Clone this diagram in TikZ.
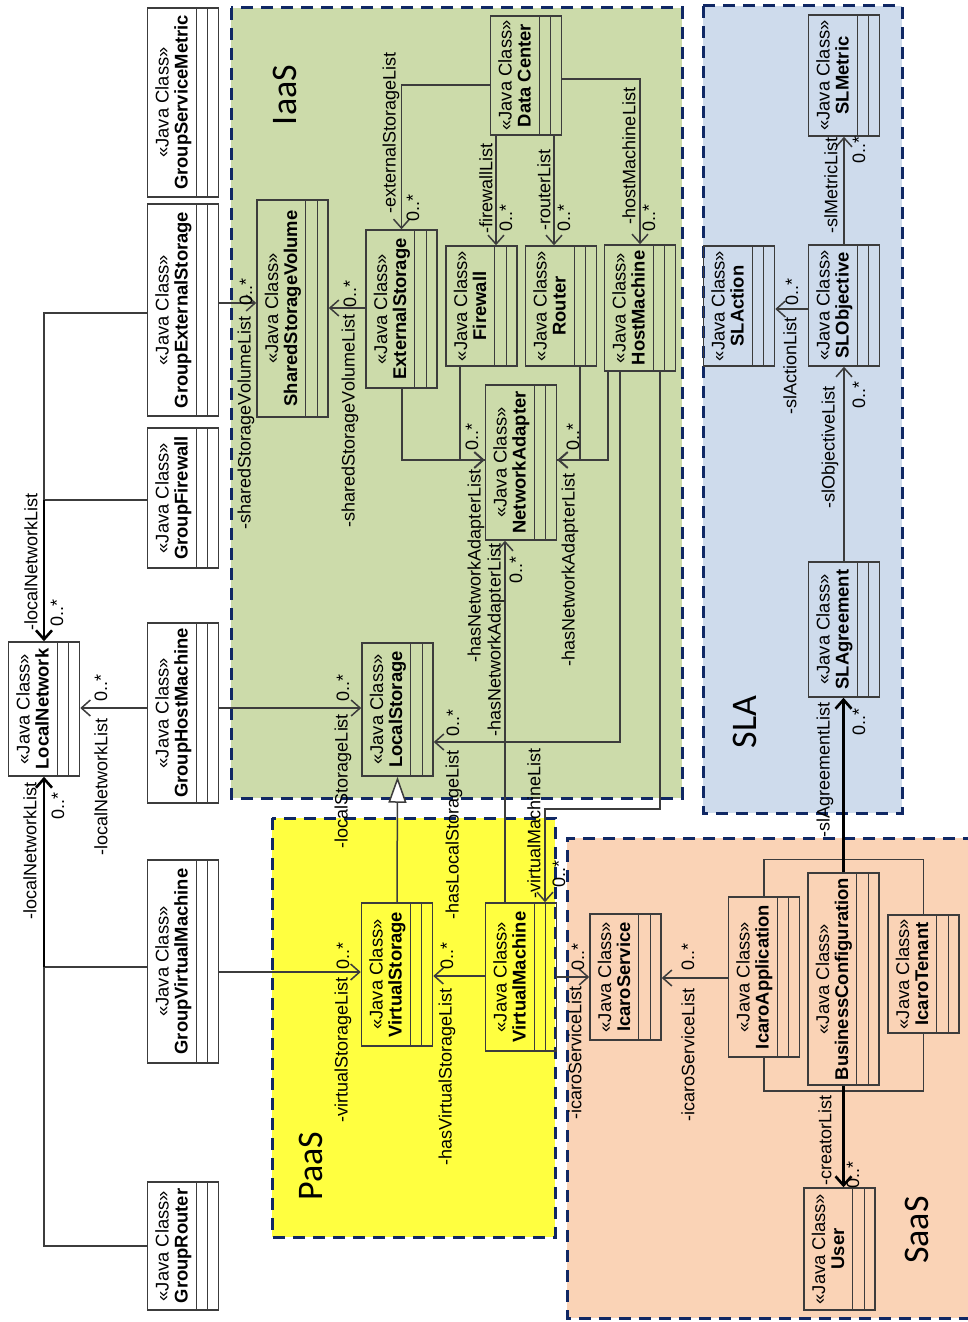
\documentclass[tikz,border=0pt]{standalone}
\usepackage{fontspec}
\setmainfont{Liberation Sans}
\newfontfamily\zonefont{Carlito}
\usetikzlibrary{arrows.meta}

\definecolor{iaasbg}{RGB}{204,219,170}
\definecolor{paasbg}{RGB}{255,255,64}
\definecolor{saasbg}{RGB}{250,211,182}
\definecolor{slabg}{RGB}{206,219,236}
\definecolor{zoneblue}{RGB}{16,40,100}
\definecolor{umlgray}{RGB}{60,60,60}

\newcommand{\jc}[1]{«Java Class»\\\textbf{#1}\rule[-11.5pt]{0pt}{11.5pt}}

\begin{document}
\begin{tikzpicture}[x=0.5pt,y=-0.5pt,
    >={Straight Barb[length=4.5pt,width=8pt]},
    cls/.style={draw=umlgray, line width=0.75pt, rotate=90, minimum height=35.5pt,
      inner xsep=1pt, inner ysep=2pt, align=center, font=\fontsize{9.2}{9.5}\selectfont},
    zone/.style={draw=zoneblue, line width=1.5pt, dash pattern=on 6pt off 4pt},
    zonename/.style={rotate=90, font=\zonefont\fontsize{18}{18}\selectfont},
    role/.style={rotate=90, inner sep=0pt, font=\fontsize{9}{9}\selectfont},
    assoc/.style={draw=umlgray, line width=0.75pt},
    heavy/.style={draw=black, line width=1.3pt}]

    \useasboundingbox (0,0) rectangle (968,1322);

    \draw[zone, fill=iaasbg] (231,8) rectangle (682,798);
    \draw[zone, fill=paasbg] (272,818) rectangle (555,1237);
    \draw[zone, fill=slabg] (703,6) rectangle (902,813);
    \fill[saasbg] (567,838) rectangle (975,1318);
    \draw[zone] (975,838) -- (567,838) -- (567,1318) -- (975,1318);

    \node[zonename] (tIaaS) at (285,95) {IaaS};
    \node[zonename] (tPaaS) at (311,1166) {PaaS};
    \node[zonename] (tSLA) at (745,722) {SLA};
    \node[zonename] (tSaaS) at (917,1230) {SaaS};

    \node[cls, minimum width=94.5pt] (gsm) at (183,102.5) {\jc{GroupServiceMetric}};
    \node[cls, minimum width=106pt] (ges) at (183,310) {\jc{GroupExternalStorage}};
    \node[cls, minimum width=70pt] (gfw) at (183,498) {\jc{GroupFirewall}};
    \node[cls, minimum width=90pt] (ghm) at (183,713) {\jc{GroupHostMachine}};
    \node[cls, minimum width=67pt] (ln) at (44,709) {\jc{LocalNetwork}};
    \node[cls, minimum width=101.5pt] (gvm) at (183,961.5) {\jc{GroupVirtualMachine}};
    \node[cls, minimum width=64pt] (grt) at (183,1246) {\jc{GroupRouter}};
    \node[cls, minimum width=108.5pt] (ssv) at (292.5,308.5) {\jc{SharedStorageVolume}};
    \node[cls, minimum width=79pt] (es) at (401.5,309) {\jc{ExternalStorage}};
    \node[cls, minimum width=60pt] (fw) at (481.5,306) {\jc{Firewall}};
    \node[cls, minimum width=60pt] (rt) at (561,306) {\jc{Router}};
    \node[cls, minimum width=63pt] (hm) at (640,308) {\jc{HostMachine}};
    \node[cls, minimum width=59.5pt] (dc) at (526,75.5) {\jc{Data Center}};
    \node[cls, minimum width=77.5pt] (na) at (521,462.5) {\jc{NetworkAdapter}};
    \node[cls, minimum width=66.5pt] (ls) at (397.5,709.5) {\jc{LocalStorage}};
    \node[cls, minimum width=71.5pt] (vs) at (397,974.5) {\jc{VirtualStorage}};
    \node[cls, minimum width=74pt] (vm) at (521,977) {\jc{VirtualMachine}};
    \node[cls, minimum width=63pt] (isv) at (625.5,977) {\jc{IcaroService}};
    \node[cls, minimum width=80pt] (iapp) at (764,977) {\jc{IcaroApplication}};
    \node[cls, minimum width=106pt] (bc) at (843.5,979) {\jc{BusinessConfiguration}};
    \node[cls, minimum width=59pt] (iten) at (923.5,974) {\jc{IcaroTenant}};
    \node[cls, minimum width=61pt] (usr) at (839.5,1249) {\jc{User}};
    \node[cls, minimum width=60pt] (slact) at (739,306) {\jc{SLAction}};
    \node[cls, minimum width=60.5pt] (slo) at (844,305.5) {\jc{SLObjective}};
    \node[cls, minimum width=60.5pt] (slm) at (844,75.5) {\jc{SLMetric}};
    \node[cls, minimum width=67.5pt] (slag) at (844,629.5) {\jc{SLAgreement}};

    \foreach \c in {gsm,ges,gfw,ghm,ln,gvm,grt,ssv,es,fw,rt,hm,dc,na,ls,vs,vm,
                    isv,iapp,bc,iten,usr,slact,slo,slm,slag}
      \draw[assoc, line width=0.6pt]
        ([xshift=-5.75pt]\c.south west) -- ([xshift=-5.75pt]\c.south east)
        ([xshift=-11.5pt]\c.south west) -- ([xshift=-11.5pt]\c.south east);

    \draw[assoc] (ges.north |- 0,313) -| (ln.east |- 0,500);
    \draw[assoc] (gfw.north |- 0,500) -- (ln.east |- 0,500);
    \draw[assoc, heavy, ->] (ln.east |- 0,500) -- (ln.east);
    \draw[assoc] (grt.north |- 0,1246) -| (ln.west |- 0,967);
    \draw[assoc] (gvm.north |- 0,967) -- (ln.west |- 0,967);
    \draw[assoc, heavy, ->] (ln.west |- 0,967) -- (ln.west);
    \draw[assoc, ->] (ghm.north |- 0,708) -- (ln.south |- 0,708);

    \draw[assoc, ->] (ges.south |- 0,303) -- (ssv.north |- 0,303);
    \draw[assoc, ->] (ghm.south |- 0,708) -- (ls.north |- 0,708);
    \draw[assoc, ->] (es.north |- 0,308) -- (ssv.south |- 0,308);
    \draw[assoc, ->] (dc.north |- 0,85) -| (es.east);
    \draw[assoc, ->] (dc.west -| 496,0) -- (fw.east -| 496,0);
    \draw[assoc, ->] (dc.west -| 554,0) -- (rt.east -| 554,0);
    \draw[assoc, ->] (dc.south |- 0,79) -| (hm.east);

    \coordinate (naIn1) at (na.north |- 0,460);
    \coordinate (naIn2) at (na.south |- 0,460);
    \draw[assoc] (fw.west -| 460,0) |- (naIn1);
    \draw[assoc, line width=1pt, ->] (es.west) |- (naIn1);
    \draw[assoc] (rt.west -| 580,0) |- (naIn2);
    \draw[assoc, line width=1pt, ->] (hm.west -| 608,0) |- (naIn2);
    \draw[assoc, ->] (hm.west -| 620,0) |- (ls.south |- 0,742);
    \draw[assoc, ->] (hm.west -| 660,0) -- ++(0,437) -| (vm.east -| 545,0);
    \draw[assoc, ->] (vm.east -| 505,0) -- (na.west -| 505,0);
    \draw[assoc, -{Triangle[length=13pt,width=9pt,fill=white]}] (vs.east) -- (ls.west);

    \draw[assoc, ->] (gvm.south |- 0,972) -- (vs.north |- 0,972);
    \draw[assoc, ->] (vm.north |- 0,976) -- (vs.south |- 0,976);
    \draw[assoc, ->] (vm.south |- 0,977) -- (isv.north |- 0,977);

    \draw[assoc, ->] (iapp.north |- 0,978) -- (isv.south |- 0,978);
    \draw[assoc] (iapp.east) -- ++(0,-37) -| (iten.east);
    \draw[assoc] (iapp.west) -- ++(0,33) -| (iten.west);
    \draw[assoc, heavy, ->] (bc.east) -- (bc.east |- slag.west);
    \draw[assoc, heavy, ->] (bc.west) -- (bc.west |- usr.east);

    \draw[assoc, ->] (slag.east) -- (slo.west);
    \draw[assoc, ->] (slo.east) -- (slm.west);
    \draw[assoc, ->] (slo.north |- 0,309) -- (slact.south |- 0,309);

    \node[role] (rLnTop) at (31,562) {-localNetworkList};
    \node[role] (mLnTop) at (57,613) {0..*};
    \node[role] (rLnBot) at (30,851) {-localNetworkList};
    \node[role] (mLnBot) at (58,806) {0..*};
    \node[role] (rLnGhm) at (101,787) {-localNetworkList};
    \node[role] (mLnGhm) at (101,688) {0..*};
    \node[role] (rSsv1) at (246,423) {-sharedStorageVolumeList};
    \node[role] (mSsv1) at (246,292) {0..*};
    \node[role] (rSsv2) at (350,421) {-sharedStorageVolumeList};
    \node[role] (mSsv2) at (350,294) {0..*};
    \node[role] (rEs) at (391,133) {-externalStorageList};
    \node[role] (mEs) at (413,208) {0..*};
    \node[role] (rFw) at (486,188) {-firewallList};
    \node[role] (mFw) at (506,218) {0..*};
    \node[role] (rRt) at (544,190) {-routerList};
    \node[role] (mRt) at (564,218) {0..*};
    \node[role] (rHm) at (629,156) {-hostMachineList};
    \node[role] (mHm) at (649,218) {0..*};
    \node[role] (rNa1) at (476,566) {-hasNetworkAdapterList};
    \node[role] (mNa1) at (472,437) {0..*};
    \node[role] (rNa2) at (570,570) {-hasNetworkAdapterList};
    \node[role] (mNa2) at (573,437) {0..*};
    \node[role] (rNa3) at (496,640) {-hasNetworkAdapterList};
    \node[role] (mNa3) at (516,570) {0..*};
    \node[role] (rLs1) at (343,781) {-localStorageList};
    \node[role] (mLs1) at (343,688) {0..*};
    \node[role] (rLs2) at (454,835) {-hasLocalStorageList};
    \node[role] (mLs2) at (453,723) {0..*};
    \node[role] (rVm) at (534,823) {-virtualMachineList};
    \node[role] (mVm) at (559,874) {0..*};
    \node[role] (rVs1) at (343,1050) {-virtualStorageList};
    \node[role] (mVs1) at (343,956) {0..*};
    \node[role] (rVs2) at (447,1077) {-hasVirtualStorageList};
    \node[role] (mVs2) at (447,956) {0..*};
    \node[role] (rIs1) at (575,1053) {-icaroServiceList};
    \node[role] (mIs1) at (578,957) {0..*};
    \node[role] (rIs2) at (688,1055) {-icaroServiceList};
    \node[role] (mIs2) at (688,957) {0..*};
    \node[role] (rSag) at (825,770) {-slAgreementList};
    \node[role] (mSag) at (859,722) {0..*};
    \node[role] (rCr) at (825,1140) {-creatorList};
    \node[role] (mCr) at (853,1175) {0..*};
    \node[role] (rSo) at (830,447) {-slObjectiveList};
    \node[role] (mSo) at (859,395) {0..*};
    \node[role] (rSm) at (831,185) {-slMetricList};
    \node[role] (mSm) at (859,150) {0..*};
    \node[role] (rSa) at (790,366) {-slActionList};
    \node[role] (mSa) at (792,292) {0..*};
\end{tikzpicture}
\end{document}
